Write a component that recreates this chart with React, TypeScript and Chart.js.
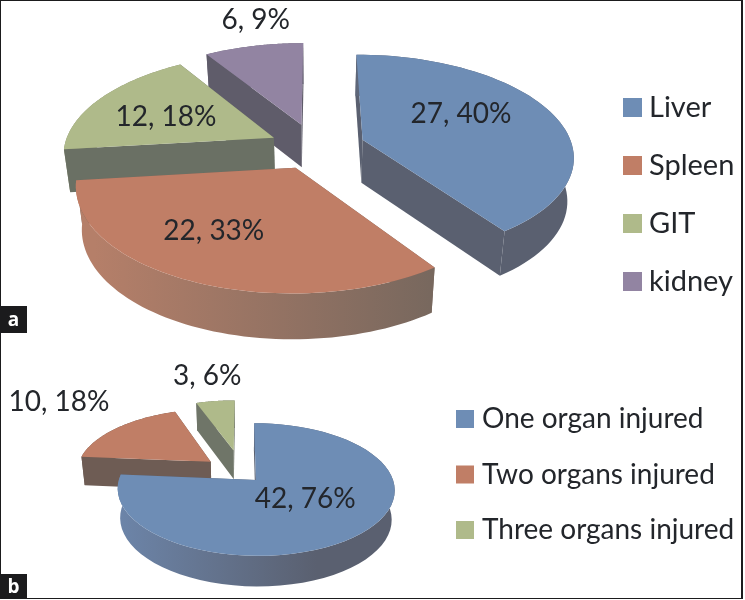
import React, { useEffect, useRef } from "react";
import { Chart, registerables } from "chart.js";

Chart.register(...registerables);

const FONT = "Lato, 'Open Sans', sans-serif";

const organLabels = ["Liver", "Spleen", "GIT", "kidney"];
const organValues = [27, 22, 12, 6];
const organPercents = [40, 33, 18, 9];
const organExplode = [0.24, 0.22, 0.22, 0.24];
const organTop = ["#6E8DB5", "#C07E66", "#AFBA8A", "#9284A2"];
const organInnerWall = ["#5A6070", "#76645A", "#6A7064", "#5F5C6A"];
const organWallLight = ["#6E7F9A", "#B57F69", "#8A9070", "#7A7488"];
const organWallDark = ["#5A6070", "#78685E", "#6A7064", "#5F5C6A"];
const organLabelSpot = [[0.425, 0.57], [0.565, 0.64], [0.44, 0.586], [0.63, 1.367]];

const countLabels = ["One organ injured", "Two organs injured", "Three organs injured"];
const countValues = [42, 10, 3];
const countPercents = [76, 18, 6];
const countExplode = [0.15, 0.3, 0.38];
const countTop = ["#6E8DB5", "#C07E66", "#AFBA8A"];
const countInnerWall = ["#5A6070", "#6E5C54", "#6F7568"];
const countWallLight = ["#6E88AE", "#6E5C54", "#6F7568"];
const countWallDark = ["#5A6070", "#6E5C54", "#6F7568"];
const countLabelSpot = [[0.47, 0.44], [0.54, 1.8], [0.52, 1.61]];

type View = { cx: number; cy: number; R: number; A: number; p: number; depth: number; shrink: number };
type Legend3d = { x: number; y: number; step: number; box: number; gap: number; font: number };

function pie3dPlugin(view: View, spots: number[][], percents: number[], wallLight: string[], wallDark: string[], inner: string[], labelSize: number, lg: Legend3d) {
  return {
    id: "pie3d",
    beforeDatasetsDraw(chart: any) {
      const ctx: CanvasRenderingContext2D = chart.ctx;
      const meta = chart.getDatasetMeta(0);
      const values: number[] = chart.data.datasets[0].data;
      const proj = (u: number, v: number, low: boolean) => {
        const w = 1 / (1 - view.p * v);
        const x = view.R * u * w;
        const y = view.A * v * w;
        return low
          ? [view.cx + x * view.shrink, view.cy + y + view.depth * (1 + (w - 1) * 0.3)]
          : [view.cx + x, view.cy + y];
      };
      const slices = meta.data.map((arc: any, i: number) => {
        const a0 = arc.startAngle + Math.PI / 2;
        const a1 = arc.endAngle + Math.PI / 2;
        const mid = (a0 + a1) / 2;
        const off = (arc.options.offset || 0) / 100;
        return { i, a0, a1, arc, ou: off * Math.sin(mid), ov: -off * Math.cos(mid), back: -Math.cos(mid) };
      });
      const order = [...slices].sort((a, b) => a.back - b.back);
      for (const s of order) {
        const rim = (low: boolean) => {
          const pts: number[][] = [];
          const n = 64;
          for (let k = 0; k <= n; k++) {
            const t = s.a0 + ((s.a1 - s.a0) * k) / n;
            pts.push(proj(s.ou + Math.sin(t), s.ov - Math.cos(t), low));
          }
          return pts;
        };
        const topRim = rim(false);
        const lowRim = rim(true);
        const apexT = proj(s.ou, s.ov, false);
        const apexL = proj(s.ou, s.ov, true);
        const poly = (pts: number[][], fill: any) => {
          ctx.beginPath();
          pts.forEach((p, j) => (j ? ctx.lineTo(p[0], p[1]) : ctx.moveTo(p[0], p[1])));
          ctx.closePath();
          ctx.fillStyle = fill;
          ctx.fill();
        };
        const startWall = [apexT, topRim[0], lowRim[0], apexL];
        const endWall = [apexT, topRim[topRim.length - 1], lowRim[lowRim.length - 1], apexL];
        const startFront = -Math.sin(s.a0) > 0.001;
        const endFront = Math.sin(s.a1) > 0.001;
        if (!startFront) poly(startWall, inner[s.i]);
        if (!endFront) poly(endWall, inner[s.i]);
        const g = ctx.createLinearGradient(view.cx - view.R * 1.05, 0, view.cx + view.R * 0.55, 0);
        g.addColorStop(0, wallLight[s.i]);
        g.addColorStop(1, wallDark[s.i]);
        poly([...topRim, ...[...lowRim].reverse()], g);
        if (startFront) poly(startWall, inner[s.i]);
        if (endFront) poly(endWall, inner[s.i]);
        poly([apexT, ...topRim], s.arc.options.backgroundColor);
      }
      ctx.font = `${labelSize}px ${FONT}`;
      ctx.fillStyle = "#23262b";
      ctx.textAlign = "center";
      ctx.textBaseline = "middle";
      for (const s of slices) {
        const [tf, rf] = spots[s.i];
        const t = s.a0 + (s.a1 - s.a0) * tf;
        const [x, y] = proj(s.ou + rf * Math.sin(t), s.ov - rf * Math.cos(t), false);
        ctx.fillText(`${values[s.i]}, ${percents[s.i]}%`, x, y);
      }
      // legend
      ctx.font = `${lg.font}px ${FONT}`;
      ctx.textAlign = "left";
      chart.data.labels.forEach((name: string, i: number) => {
        const y = lg.y + lg.step * i;
        ctx.fillStyle = chart.data.datasets[0].backgroundColor[i];
        ctx.fillRect(lg.x, y - lg.box / 2, lg.box, lg.box);
        ctx.fillStyle = "#23262b";
        ctx.fillText(name, lg.x + lg.box + lg.gap, y);
      });
      return false;
    },
  };
}

function makeChart(canvas: HTMLCanvasElement, labels: string[], values: number[], explode: number[], colors: string[], plugin: any) {
  return new Chart(canvas, {
    type: "pie",
    data: {
      labels,
      datasets: [{ data: values, backgroundColor: colors, borderWidth: 0, offset: explode.map((e) => e * 100) } as any],
    },
    options: {
      responsive: false,
      animation: false,
      plugins: { tooltip: { enabled: false }, legend: { display: false } },
    },
    plugins: [plugin],
  } as any);
}

const tag = (top: number, height: number): React.CSSProperties => ({
  position: "absolute",
  left: 0,
  top,
  width: 27,
  height,
  background: "#1b1b1d",
  color: "#fff",
  font: `bold 19px/${height}px "Open Sans", sans-serif`,
  textAlign: "center",
});

export default function App() {
  const a = useRef<HTMLCanvasElement>(null);
  const b = useRef<HTMLCanvasElement>(null);
  useEffect(() => {
    const prev = document.body.style.margin;
    document.body.style.margin = "0";
    const viewA: View = { cx: 315, cy: 147, R: 210, A: 100, p: 0.15, depth: 43, shrink: 0.975 };
    const viewB: View = { cx: 242, cy: 133, R: 135, A: 63, p: 0.14, depth: 29, shrink: 0.98 };
    const c1 = makeChart(
      a.current!,
      organLabels,
      organValues,
      organExplode,
      organTop,
      pie3dPlugin(viewA, organLabelSpot, organPercents, organWallLight, organWallDark, organInnerWall, 28, { x: 623, y: 107.5, step: 58, box: 19, gap: 7, font: 29 }),
    );
    const c2 = makeChart(
      b.current!,
      countLabels,
      countValues,
      countExplode,
      countTop,
      pie3dPlugin(viewB, countLabelSpot, countPercents, countWallLight, countWallDark, countInnerWall, 28, { x: 456, y: 79, step: 55.5, box: 18, gap: 8, font: 28 }),
    );
    return () => {
      c1.destroy();
      c2.destroy();
      document.body.style.margin = prev;
    };
  }, []);
  return (
    <div style={{ position: "relative", width: 745, height: 600, background: "#fff", overflow: "hidden" }}>
      <canvas ref={a} width={745} height={345} style={{ position: "absolute", left: 0, top: 0 }} />
      <canvas ref={b} width={745} height={260} style={{ position: "absolute", left: 0, top: 340 }} />
      <div style={{ position: "absolute", left: 0, top: 0, width: 740, height: 597, borderStyle: "solid", borderColor: "#1b1b1d", borderWidth: "1px 2px 1px 1px", pointerEvents: "none" }} />
      <div style={tag(306, 27)}>a</div>
      <div style={tag(574, 25)}>b</div>
    </div>
  );
}
